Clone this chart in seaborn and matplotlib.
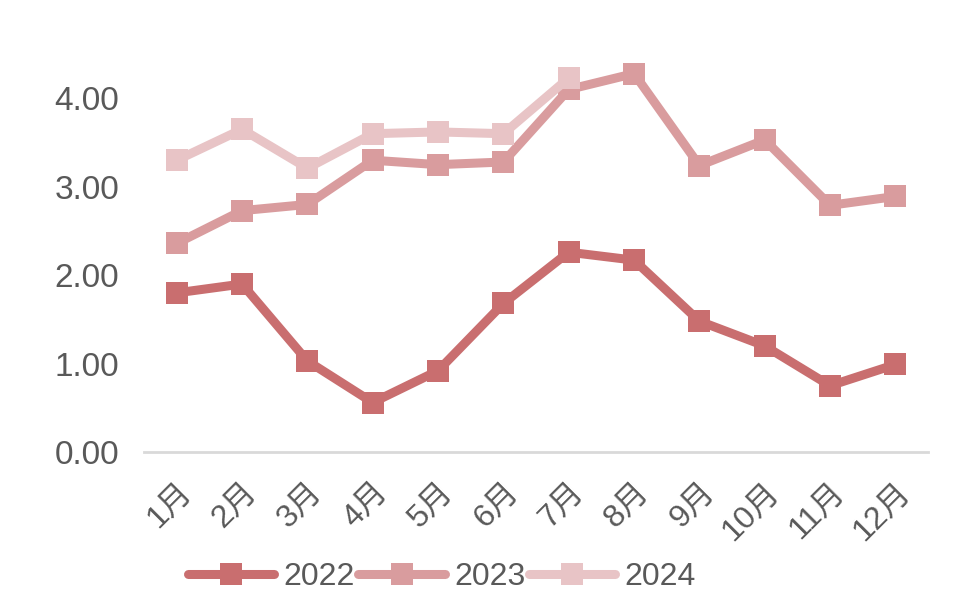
import matplotlib
matplotlib.use("Agg")
import matplotlib.pyplot as plt
import seaborn as sns
import pandas as pd
import numpy as np

months = ["1月", "2月", "3月", "4月", "5月", "6月", "7月", "8月", "9月", "10月", "11月", "12月"]
y2022 = [1.80, 1.90, 1.03, 0.56, 0.92, 1.68, 2.26, 2.17, 1.48, 1.20, 0.75, 0.99]
y2023 = [2.36, 2.73, 2.80, 3.30, 3.25, 3.28, 4.10, 4.28, 3.24, 3.53, 2.79, 2.89]
y2024 = [3.30, 3.65, 3.21, 3.60, 3.62, 3.60, 4.23]
series_names = ["2022", "2023", "2024"]
colors = ["#C96E6F", "#D99C9E", "#E8C4C6"]
yticks = [0.0, 1.0, 2.0, 3.0, 4.0]

rows = []
for name, vals in zip(series_names, [y2022, y2023, y2024]):
    for m, v in zip(months, vals):
        rows.append({"month": m, "value": v, "year": name})
df = pd.DataFrame(rows)
df["month"] = pd.Categorical(df["month"], categories=months, ordered=True)
df["x"] = df["month"].cat.codes

sns.set_theme(style="white")
plt.rcParams['font.family'] = ['Liberation Sans', 'Noto Sans CJK SC', 'DejaVu Sans']

fig = plt.figure(figsize=(9.8, 6.15), dpi=100)
ax = fig.add_axes([0.147, 0.265, 0.80, 0.647])

sns.lineplot(data=df, x="x", y="value", hue="year", hue_order=series_names,
             palette=colors, marker="s", markersize=16, markeredgewidth=0,
             linewidth=6.5, ax=ax, legend=True)

ax.set_xlim(-0.5, 11.5)
ax.set_ylim(0, 4.5)
ax.set_yticks(yticks)
ax.set_yticklabels([f"{t:.2f}" for t in yticks], fontsize=24, color="#595959")
ax.set_xticks(range(len(months)))
ax.set_xticklabels(months, rotation=45, ha="right", rotation_mode="anchor",
                   fontsize=23, color="#595959")
ax.tick_params(axis="x", pad=18, length=0)
ax.tick_params(axis="y", pad=18, length=0)
ax.set_xlabel("")
ax.set_ylabel("")
for s in ["top", "right", "left"]:
    ax.spines[s].set_visible(False)
ax.spines["bottom"].set_color("#D9D9D9")
ax.spines["bottom"].set_linewidth(2)
ax.grid(False)

handles, labels = ax.get_legend_handles_labels()
leg = ax.legend(handles, labels, loc="center", bbox_to_anchor=(0.38, -0.315),
                ncol=3, frameon=False, handlelength=2.7,
                columnspacing=0.1, handletextpad=0.3,
                prop={'family': ['Liberation Sans', 'DejaVu Sans'], 'size': 23})
for t in leg.get_texts():
    t.set_color("#595959")

fig.savefig("out.png", dpi=100, facecolor="white")
